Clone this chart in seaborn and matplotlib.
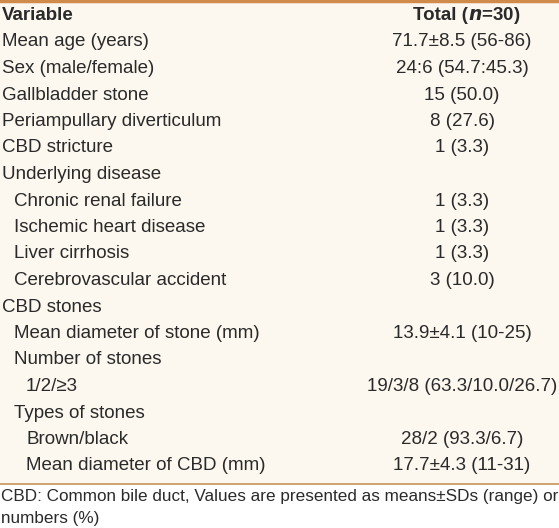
import matplotlib
matplotlib.use("Agg")
import matplotlib.pyplot as plt
import seaborn as sns

sns.set_style("white")
plt.rcParams['font.family'] = ['Liberation Sans', 'DejaVu Sans']

variables = ["Mean age (years)", "Sex (male/female)", "Gallbladder stone",
             "Periampullary diverticulum", "CBD stricture", "Underlying disease",
             "Chronic renal failure", "Ischemic heart disease", "Liver cirrhosis",
             "Cerebrovascular accident", "CBD stones", "Mean diameter of stone (mm)",
             "Number of stones", "1/2/\u22653", "Types of stones", "Brown/black",
             "Mean diameter of CBD (mm)"]
indent_levels = [0, 0, 0, 0, 0, 0, 1, 1, 1, 1, 0, 1, 1, 2, 1, 2, 2]
totals = ["71.7\u00b18.5 (56-86)", "24:6 (54.7:45.3)", "15 (50.0)", "8 (27.6)", "1 (3.3)", "",
          "1 (3.3)", "1 (3.3)", "1 (3.3)", "3 (10.0)", "", "13.9\u00b14.1 (10-25)", "",
          "19/3/8 (63.3/10.0/26.7)", "", "28/2 (93.3/6.7)", "17.7\u00b14.3 (11-31)"]
footnote = ["CBD: Common bile duct, Values are presented as means\u00b1SDs (range) or as",
            "numbers (%)"]

W, H = 559, 528
fig = plt.figure(figsize=(W/100, H/100), dpi=100)
ax = fig.add_axes([0, 0, 1, 1])
ax.set_xlim(0, W)
ax.set_ylim(H, 0)
ax.axis("off")

ax.axhspan(0, 484, color="#FCF8EF", zorder=0)
ax.axhline(1, color="#D08A4A", lw=2.5)
ax.axhline(484, color="#C8955E", lw=1.2)

fs = 13.5
col = "#2a2a2a"
ax.text(2, 15, "Variable", fontsize=fs, fontweight="bold", va="center", color=col)
ax.text(468, 15, "Total (", fontsize=fs, fontweight="bold", va="center", ha="right", color=col)
ax.text(468, 15, "$\\boldsymbol{n}$=30)", fontsize=fs, fontweight="bold", va="center", ha="left", color=col)

for i, (v, lvl, t) in enumerate(zip(variables, indent_levels, totals)):
    y = 42 + i * 26.5
    ax.text(2 + 12 * lvl, y, v, fontsize=fs, va="center", color=col)
    if t:
        ax.text(462, y, t, fontsize=fs, va="center", ha="center", color=col)

for j, line in enumerate(footnote):
    ax.text(1, 497 + 22 * j, line, fontsize=12.3, va="center", color=col)

fig.savefig("out.png", dpi=100)
